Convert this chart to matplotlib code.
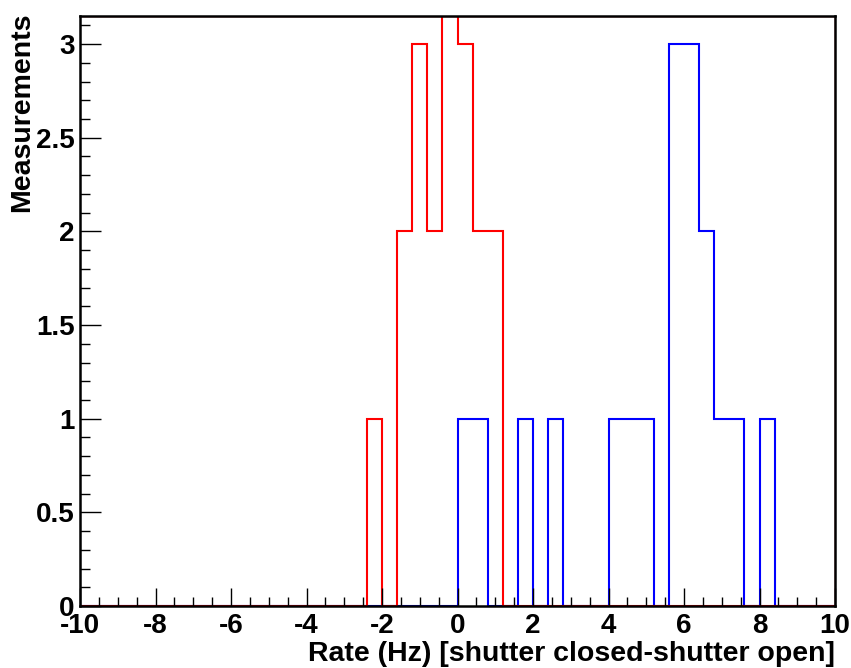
import matplotlib.pyplot as plt
import numpy as np

plt.rcParams['font.family'] = ['Liberation Sans', 'DejaVu Sans']
plt.rcParams['font.weight'] = 'bold'

# 50 bins de ancho 0.4 entre -10 y 10
x_min, x_max = -10, 10
n_bins = 50

# Cuentas por bin
red_counts = [0] * 19 + [1, 0, 2, 3, 2, 4, 3, 2, 2] + [0] * 22
blue_counts = ([0] * 25 + [1, 1, 0, 0, 1, 0, 1, 0, 0, 0, 1, 1, 1, 0, 3, 3, 2, 1, 1, 0, 1]
               + [0] * 4)

x_ticks = [-10, -8, -6, -4, -2, 0, 2, 4, 6, 8, 10]
y_ticks = [0, 0.5, 1, 1.5, 2, 2.5, 3]
y_tick_labels = ['0', '0.5', '1', '1.5', '2', '2.5', '3']

edges = np.linspace(x_min, x_max, n_bins + 1)

fig = plt.figure(figsize=(8.51, 6.68), dpi=100)
ax = fig.add_axes([80 / 851, 1 - 606 / 668, 755 / 851, 590 / 668])

ax.stairs(blue_counts, edges, color='blue', linewidth=1.5, baseline=0)
ax.stairs(red_counts, edges, color='red', linewidth=1.5, baseline=0)

ax.set_xlim(x_min, x_max)
ax.set_ylim(0, 3.15)

# linea roja fina dentro del marco (arriba y derecha)
ax.axhline(3.15, color='red', linewidth=1.0, zorder=1)
ax.axvline(x_max, color='red', linewidth=1.0, zorder=1)

ax.set_xticks(x_ticks)
ax.set_xticklabels([str(t) for t in x_ticks])
ax.set_xticks(np.arange(x_min, x_max + 0.01, 0.5), minor=True)
ax.set_yticks(y_ticks)
ax.set_yticklabels(y_tick_labels)
ax.set_yticks(np.arange(0, 3.15, 0.1), minor=True)

ax.tick_params(axis='both', which='both', direction='in', top=False, right=False,
               labelsize=20, width=1.0, color='black')
ax.tick_params(axis='x', which='major', length=13, pad=5)
ax.tick_params(axis='x', which='minor', length=6.5)
ax.tick_params(axis='y', which='major', length=15, pad=4)
ax.tick_params(axis='y', which='minor', length=7.5)

for s in ax.spines.values():
    s.set_linewidth(1.8)
    s.set_color('black')

ax.set_xlabel('Rate (Hz) [shutter closed-shutter open]', fontsize=20.5, fontweight='bold')
ax.xaxis.set_label_coords(1.0, -0.060)
ax.xaxis.label.set_horizontalalignment('right')
ax.xaxis.label.set_verticalalignment('top')
ax.set_ylabel('Measurements', fontsize=20.5, fontweight='bold')
ax.yaxis.set_label_coords(-0.059, 1.006)
ax.yaxis.label.set_horizontalalignment('right')

fig.savefig('out.png', dpi=100)
